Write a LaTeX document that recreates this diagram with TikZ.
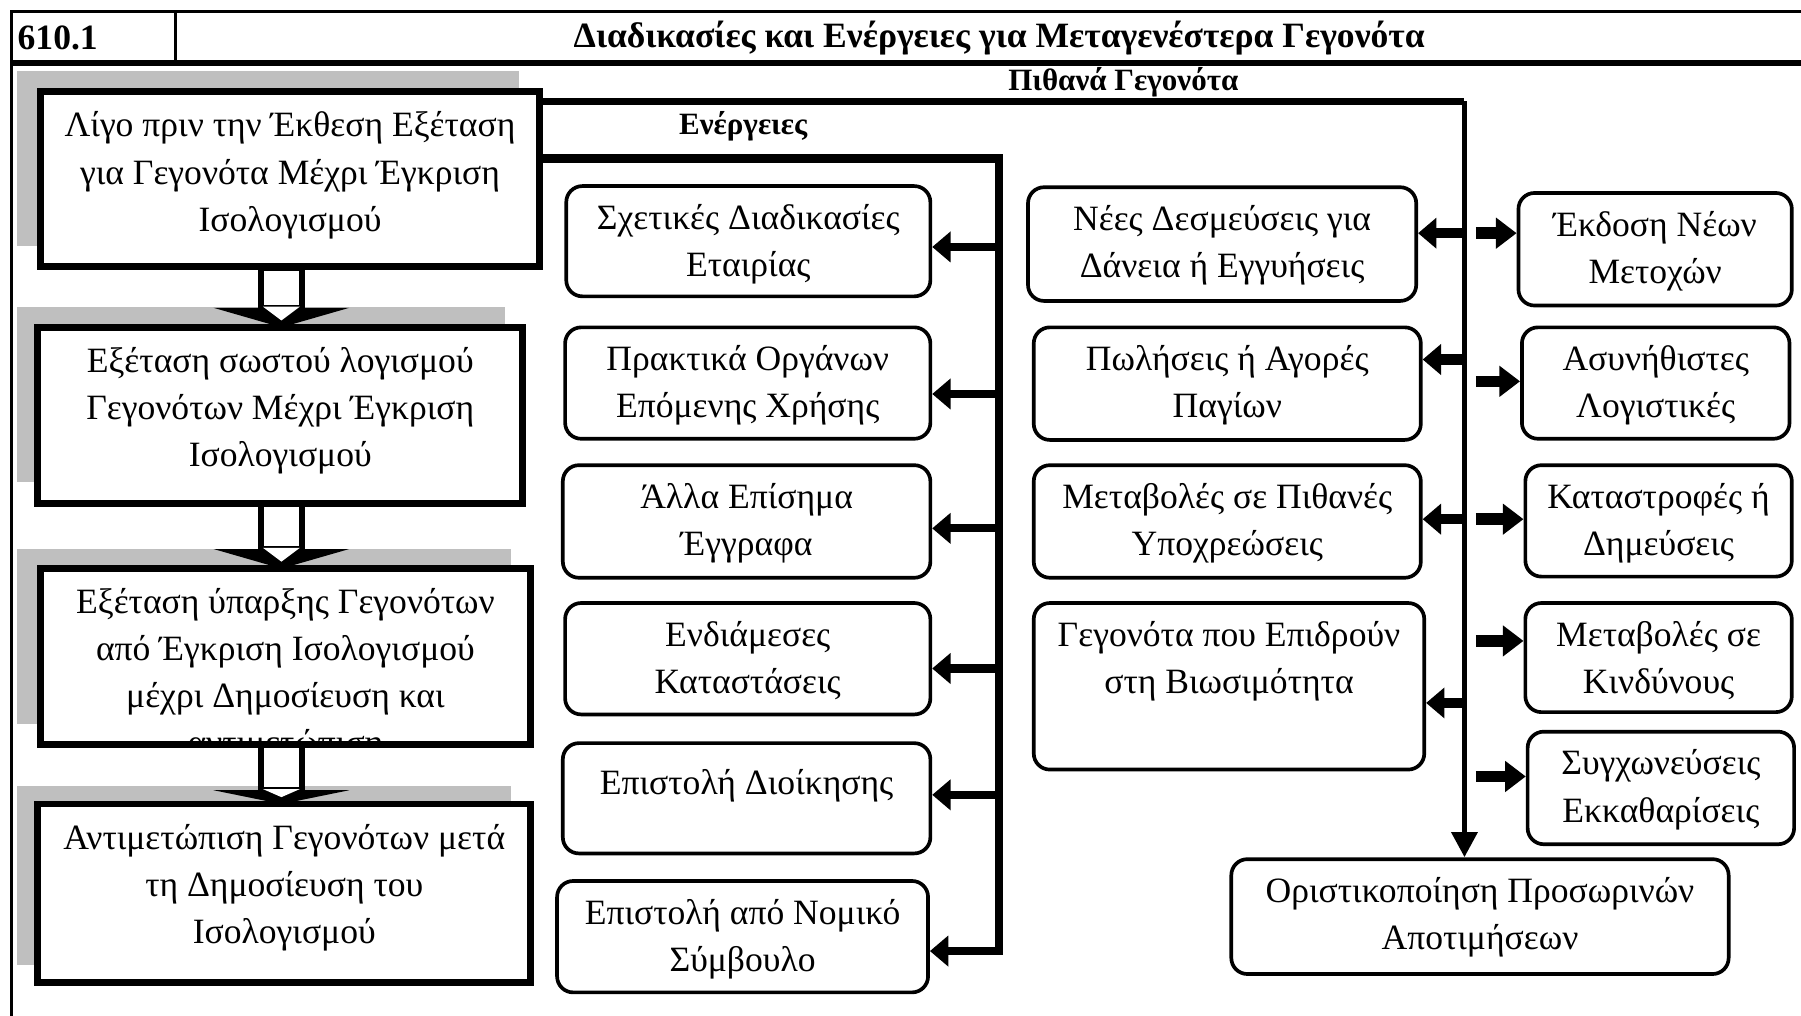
\documentclass[tikz,border=0pt]{standalone}
\usepackage{fontspec}
\setmainfont{Liberation Serif}
\usetikzlibrary{arrows.meta,fit,calc}
\begin{document}
\begin{tikzpicture}[x=0.5pt,y=-0.5pt,
  thickbox/.style={draw, line width=3pt, fill=white, inner sep=0pt, outer sep=0pt},
  rbox/.style={draw, line width=1.6pt, rounded corners=7pt, fill=white, inner sep=0pt},
  shadowbox/.style={fill=black!25, draw=none, inner sep=0pt},
  txt/.style={align=center, inner sep=0pt, anchor=north, font=\fontsize{15.5}{20.5}\selectfont, execute at begin node=\strut},
  hdr/.style={inner sep=0pt, font=\bfseries\fontsize{15.5}{18}\selectfont},
  lbl/.style={inner sep=0pt, font=\bfseries\fontsize{13.5}{16}\selectfont},
  arrM/.style={line width=3.5pt, -{Triangle[length=8pt,width=13pt]}},
  arrL/.style={line width=4.5pt, -{Triangle[length=8pt,width=13pt]}},
  arrR/.style={line width=5pt, -{Triangle[length=9pt,width=13pt]}},
  arrD/.style={line width=2.5pt, -{Triangle[length=11pt,width=11pt]}}
]
\useasboundingbox (0,0) rectangle (1568,884);
% frame and header
\draw[line width=1.5pt] (10,900) -- (10,10) -- (1580,10);
\draw[line width=1.5pt] (153,10) -- (153,55);
\draw[line width=2.5pt] (10,55) -- (1580,55);
\node[hdr, anchor=west] (num) at (15,33) {610.1};
\node[hdr] (title) at (870,33) {Διαδικασίες και Ενέργειες για Μεταγενέστερα Γεγονότα};
\node[lbl] (pg) at (978,72) {Πιθανά Γεγονότα};
\node[lbl] (en) at (647,110) {Ενέργειες};

% shadows
\node[shadowbox, fit={(15,62) (452,214)}] (s1) {};
\node[shadowbox, fit={(15,267) (440,420)}] (s2) {};
\node[shadowbox, fit={(15,478) (445,630)}] (s3) {};
\node[shadowbox, fit={(15,684) (445,840)}] (s4) {};

% left column
\node[thickbox, fit={(35,80) (470,232)}] (l1) {};
\node[txt] (l1t) at ($(l1.north)+(0,17)$) {Λίγο πριν την Έκθεση Εξέταση\\για Γεγονότα Μέχρι Έγκριση\\Ισολογισμού};
\node[thickbox, fit={(33,285) (455,438)}] (l2) {};
\node[txt] (l2t) at ($(l2.north)+(0,17)$) {Εξέταση σωστού λογισμού\\Γεγονότων Μέχρι Έγκριση\\Ισολογισμού};
\node[thickbox, fit={(35,495) (462,648)}] (l3) {};
\node[txt] (l3t) at ($(l3.north)+(0,17)$) {Εξέταση ύπαρξης Γεγονότων\\από Έγκριση Ισολογισμού\\μέχρι Δημοσίευση και\\αντιμετώπιση};
\fill[white] (30,651) rectangle (470,683);
\draw[line width=3pt] (l3.south west) rectangle (l3.north east);
\node[thickbox, fit={(33,700) (462,855)}] (l4) {};
\node[txt] (l4t) at ($(l4.north)+(0,17)$) {Αντιμετώπιση Γεγονότων μετά\\τη Δημοσίευση του\\Ισολογισμού};

% block arrows
\foreach \yb/\yh/\yt in {232/268/285, 438/478/495, 648/688/700}{
  \fill[black] (186,\yh) -- (304,\yh) -- (245,\yt) -- cycle;
  \filldraw[fill=white, draw=black, line width=2.5pt] (227,\yb+1) rectangle (263,\yh);
  \fill[white] (229,\yh-1) -- (261,\yh-1) -- (245,\yt-6) -- cycle;
}

% middle column
\node[rbox, fit={(493,162) (810,258)}] (m1) {};
\node[txt] (m1t) at ($(m1.north)+(0,17)$) {Σχετικές Διαδικασίες\\Εταιρίας};
\node[rbox, fit={(492,285) (810,382)}] (m2) {};
\node[txt] (m2t) at ($(m2.north)+(0,17)$) {Πρακτικά Οργάνων\\Επόμενης Χρήσης};
\node[rbox, fit={(490,405) (810,503)}] (m3) {};
\node[txt] (m3t) at ($(m3.north)+(0,17)$) {Άλλα Επίσημα\\Έγγραφα};
\node[rbox, fit={(492,525) (810,622)}] (m4) {};
\node[txt] (m4t) at ($(m4.north)+(0,17)$) {Ενδιάμεσες\\Καταστάσεις};
\node[rbox, fit={(490,647) (810,743)}] (m5) {};
\node[txt] (m5t) at ($(m5.north)+(0,17)$) {Επιστολή Διοίκησης};
\node[rbox, fit={(485,767) (808,864)}] (m6) {};
\node[txt] (m6t) at ($(m6.north)+(0,17)$) {Επιστολή από Νομικό\\Σύμβουλο};

% events left
\node[rbox, fit={(895,163) (1233,262)}] (r1) {};
\node[txt] (r1t) at ($(r1.north)+(0,17)$) {Νέες Δεσμεύσεις για\\Δάνεια ή Εγγυήσεις};
\node[rbox, fit={(900,285) (1237,383)}] (r2) {};
\node[txt] (r2t) at ($(r2.north)+(0,17)$) {Πωλήσεις ή Αγορές\\Παγίων};
\node[rbox, fit={(900,405) (1237,503)}] (r3) {};
\node[txt] (r3t) at ($(r3.north)+(0,17)$) {Μεταβολές σε Πιθανές\\Υποχρεώσεις};
\node[rbox, fit={(900,525) (1240,670)}] (r4) {};
\node[txt] (r4t) at ($(r4.north)+(0,17)$) {Γεγονότα που Επιδρούν\\στη Βιωσιμότητα};

% events right
\node[rbox, fit={(1322,168) (1560,266)}] (f1) {};
\node[txt] (f1t) at ($(f1.north)+(0,17)$) {Έκδοση Νέων\\Μετοχών};
\node[rbox, fit={(1325,285) (1558,382)}] (f2) {};
\node[txt] (f2t) at ($(f2.north)+(0,17)$) {Ασυνήθιστες\\Λογιστικές};
\node[rbox, fit={(1328,405) (1560,502)}] (f3) {};
\node[txt] (f3t) at ($(f3.north)+(0,17)$) {Καταστροφές ή\\Δημεύσεις};
\node[rbox, fit={(1328,525) (1560,620)}] (f4) {};
\node[txt] (f4t) at ($(f4.north)+(0,17)$) {Μεταβολές σε\\Κινδύνους};
\node[rbox, fit={(1330,637) (1562,735)}] (f5) {};
\node[txt] (f5t) at ($(f5.north)+(0,17)$) {Συγχωνεύσεις\\Εκκαθαρίσεις};

% bottom
\node[rbox, fit={(1072,748) (1505,848)}] (b) {};
\node[txt] (bt) at ($(b.north)+(0,17)$) {Οριστικοποίηση Προσωρινών\\Αποτιμήσεων};

% buses
\coordinate (busP) at (1275,88);
\coordinate (busA) at (870,138);
\draw[line width=3pt] (l1.east |- busP) -- (busP);
\draw[arrD] (busP) -- (busP |- b.north);
\coordinate (am1) at (870,215);
\coordinate (am2) at (870,343);
\coordinate (am3) at (870,460);
\coordinate (am4) at (870,582);
\coordinate (am5) at (870,692);
\coordinate (am6) at (870,828);
\draw[line width=3.5pt] (l1.east |- busA) -- (busA) -- ($(am6)+(0,3.5)$);
\foreach \i in {1,...,6}{ \draw[arrM] (am\i) -- (am\i -| m\i.east); }

\coordinate (ar1) at (1275,203);
\coordinate (ar2) at (1275,313);
\coordinate (ar3) at (1275,452);
\coordinate (ar4) at (1275,612);
\foreach \i in {1,...,4}{ \draw[arrL] (ar\i) -- (ar\i -| r\i.east); }
\coordinate (af1) at (1285,203);
\coordinate (af2) at (1285,332);
\coordinate (af3) at (1285,452);
\coordinate (af4) at (1285,558);
\coordinate (af5) at (1285,676);
\foreach \i in {1,...,5}{ \draw[arrR] (af\i) -- (af\i -| f\i.west); }
\end{tikzpicture}
\end{document}
